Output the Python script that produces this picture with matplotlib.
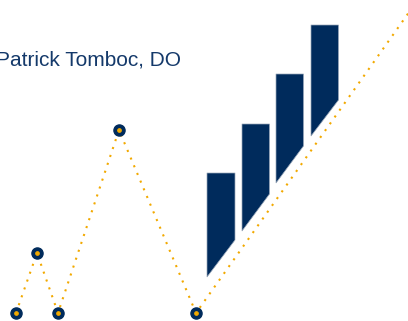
import numpy as np
import matplotlib
matplotlib.use("Agg")
import matplotlib.pyplot as plt

# zigzag path (pixel-like coords, y grows downward)
path_x = [16, 37, 58, 119, 196, 412]
path_y = [313, 253, 313, 130, 313, 8]
n_dots = 5  # the first five vertices get a marker

# rising bars with slanted bottoms
bar_left = [207, 242, 276, 311]
bar_width = [28, 27.5, 27.5, 27.5]
bar_top = [173, 124, 74, 25]
bar_bot_left = [277, 231, 183, 136]
bar_bot_right = [240, 194, 146, 100]

title = "Patrick Tomboc, DO"

navy = "#002b5c"
gold = "#f2a900"

fig = plt.figure(figsize=(4.08, 3.21), dpi=100)
ax = fig.add_axes([0, 0, 1, 1])
ax.set_xlim(0, 408)
ax.set_ylim(321, 0)
ax.axis("off")

for l, w, t, bl, br in zip(bar_left, bar_width, bar_top, bar_bot_left, bar_bot_right):
    ax.fill([l, l + w, l + w, l], [t, t, br, bl], color=navy,
            edgecolor="#9aa8ba", linewidth=0.5, zorder=2)

ax.plot(path_x, path_y, color=gold, lw=1.5, ls=(0, (1, 3)), zorder=3)
ax.plot(path_x[:n_dots], path_y[:n_dots], ls="none", marker="o", ms=8,
        color=navy, zorder=4)
ax.plot(path_x[:n_dots], path_y[:n_dots], ls="none", marker="o", ms=2.4,
        color=gold, zorder=5)

ax.text(-4, 66, title, fontsize=15, family="Liberation Sans", color="#14396a",
        ha="left", va="baseline")

fig.savefig("out.png", dpi=100)
